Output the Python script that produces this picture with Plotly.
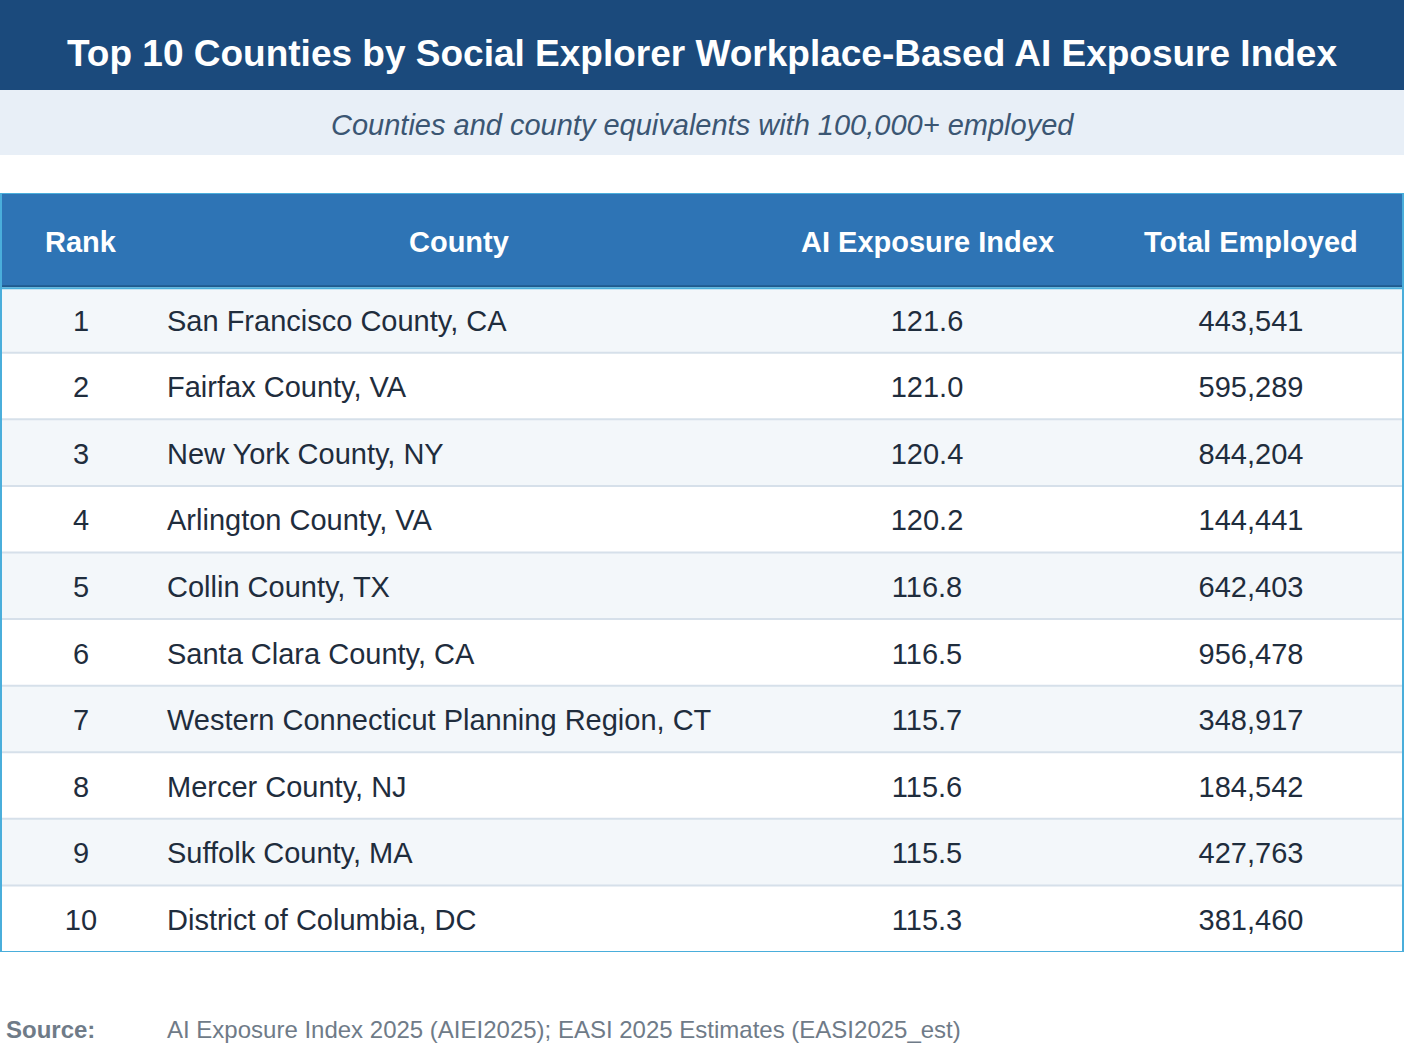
import plotly.graph_objects as go

ranks = [1, 2, 3, 4, 5, 6, 7, 8, 9, 10]
counties = ['San Francisco County, CA', 'Fairfax County, VA', 'New York County, NY',
            'Arlington County, VA', 'Collin County, TX', 'Santa Clara County, CA',
            'Western Connecticut Planning Region, CT', 'Mercer County, NJ',
            'Suffolk County, MA', 'District of Columbia, DC']
ai_index = [121.6, 121.0, 120.4, 120.2, 116.8, 116.5, 115.7, 115.6, 115.5, 115.3]
employed = [443541, 595289, 844204, 144441, 642403, 956478, 348917, 184542, 427763, 381460]
headers = ['Rank', 'County', 'AI Exposure Index', 'Total Employed']

W, H = 1404, 1045
FONT = 'Liberation Sans, Arial, sans-serif'
DARK = '#1b4a7c'
HEAD = '#2e74b5'
EDGE = '#4aaedb'
TXT = '#1f2d3d'
BODY = 29

# column layout (x in pixels)
col_x = {'rank': 81, 'county': 167, 'index': 927, 'emp': 1251}
head_x = [81, 459, 927, 1251]

# table vertical layout: header spans -0.9..0.5, rows i-0.5..i+0.5
top_px, bot_px = 193, 952
y_top = 1 - top_px / H
y_bot = 1 - bot_px / H
# text axis sits a few px lower than the fill axis so glyphs look centred
nudge = 4 / ((bot_px - top_px) / 11.4)

fig = go.Figure()

fills = ['#f3f7fa' if r % 2 == 1 else '#ffffff' for r in ranks]
fig.add_trace(go.Bar(y=ranks, x=[W] * len(ranks), base=0, width=1, orientation='h',
                     marker=dict(color=fills, line=dict(width=0)), hoverinfo='skip'))

txt_font = dict(family=FONT, size=BODY, color=TXT)
fig.add_trace(go.Scatter(x=[col_x['rank']] * len(ranks), y=ranks, mode='text', yaxis='y2',
                         text=[str(r) for r in ranks], textposition='middle center',
                         textfont=txt_font, hoverinfo='skip'))
fig.add_trace(go.Scatter(x=[col_x['county']] * len(ranks), y=ranks, mode='text', yaxis='y2',
                         text=counties, textposition='middle right',
                         textfont=txt_font, hoverinfo='skip'))
fig.add_trace(go.Scatter(x=[col_x['index']] * len(ranks), y=ranks, mode='text', yaxis='y2',
                         text=[f'{v:.1f}' for v in ai_index], textposition='middle center',
                         textfont=txt_font, hoverinfo='skip'))
fig.add_trace(go.Scatter(x=[col_x['emp']] * len(ranks), y=ranks, mode='text', yaxis='y2',
                         text=[f'{v:,}' for v in employed], textposition='middle center',
                         textfont=txt_font, hoverinfo='skip'))

shapes = [
    # title banner + subtitle band
    dict(type='rect', xref='paper', yref='paper', x0=0, x1=1, y0=1 - 90 / H, y1=1,
         fillcolor=DARK, line_width=0, layer='below'),
    dict(type='rect', xref='paper', yref='paper', x0=0, x1=1, y0=1 - 155 / H, y1=1 - 90 / H,
         fillcolor='#e8eff7', line_width=0, layer='below'),
    # header band
    dict(type='rect', xref='x', yref='y', x0=0, x1=W, y0=-0.9, y1=0.5,
         fillcolor=HEAD, line_width=0, layer='above'),
]
# row separators
for r in ranks[:-1]:
    shapes.append(dict(type='line', xref='x', yref='y', x0=0, x1=W, y0=r + 0.5, y1=r + 0.5,
                       line=dict(color='#d6e0ea', width=2)))
# header bottom rule
shapes.append(dict(type='line', xref='x', yref='y', x0=0, x1=W, y0=0.5, y1=0.5,
                   line=dict(color='#1f5a8e', width=2)))
shapes.append(dict(type='line', xref='x', yref='y', x0=0, x1=W, y0=0.53, y1=0.53,
                   line=dict(color=EDGE, width=2)))
# outer border
shapes.append(dict(type='rect', xref='x', yref='y', x0=1, x1=W - 1, y0=-0.9, y1=10.5,
                   line=dict(color=EDGE, width=2), fillcolor='rgba(0,0,0,0)'))

annotations = [
    dict(text='<b>Top 10 Counties by Social Explorer Workplace-Based AI Exposure Index</b>',
         xref='paper', yref='paper', x=0.5, y=1 - 54 / H, showarrow=False,
         font=dict(family=FONT, size=37, color='white'), xanchor='center', yanchor='middle'),
    dict(text='<i>Counties and county equivalents with 100,000+ employed</i>',
         xref='paper', yref='paper', x=0.5, y=1 - 125 / H, showarrow=False,
         font=dict(family=FONT, size=29, color='#3b5673'), xanchor='center', yanchor='middle'),
    dict(text='<b>Source:</b>', xref='paper', yref='paper', x=4 / W, y=1 - 1029 / H,
         showarrow=False, font=dict(family=FONT, size=24, color='#6f7b88'),
         xanchor='left', yanchor='middle'),
    dict(text='AI Exposure Index 2025 (AIEI2025); EASI 2025 Estimates (EASI2025_est)',
         xref='paper', yref='paper', x=165 / W, y=1 - 1029 / H, showarrow=False,
         font=dict(family=FONT, size=24, color='#6f7b88'), xanchor='left', yanchor='middle'),
]
for hx, h in zip(head_x, headers):
    annotations.append(dict(text=f'<b>{h}</b>', xref='x', yref='y', x=hx, y=-0.2, yshift=-2,
                            showarrow=False, font=dict(family=FONT, size=29, color='white'),
                            xanchor='center', yanchor='middle'))

fig.update_layout(
    width=W, height=H, margin=dict(l=0, r=0, t=0, b=0),
    paper_bgcolor='white', plot_bgcolor='white', showlegend=False,
    xaxis=dict(range=[0, W], visible=False, fixedrange=True),
    yaxis=dict(range=[10.5, -0.9], visible=False, fixedrange=True, domain=[y_bot, y_top]),
    yaxis2=dict(range=[10.5 - nudge, -0.9 - nudge], visible=False, fixedrange=True,
                overlaying='y'),
    shapes=shapes, annotations=annotations, hovermode=False,
)

# page body has a default margin; drop it so the figure fills the window
fig.write_html('out.html', config={'displayModeBar': False},
               post_script="document.body.style.margin='0';")
